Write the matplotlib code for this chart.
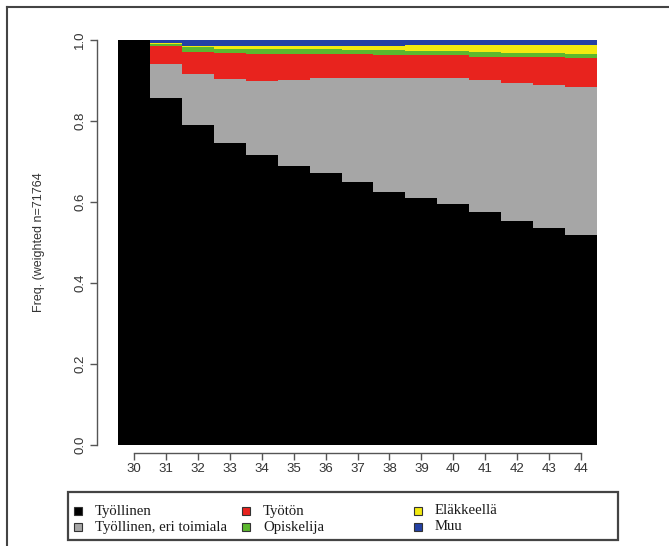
import matplotlib
matplotlib.use("Agg")
import matplotlib.pyplot as plt
from matplotlib.lines import Line2D
from matplotlib.patches import Rectangle
import numpy as np

# ======= Data: share of each status by age =======
ages = [30, 31, 32, 33, 34, 35, 36, 37, 38, 39, 40, 41, 42, 43, 44]
tyollinen = [1.000, 0.858, 0.790, 0.745, 0.715, 0.690, 0.671, 0.649, 0.625, 0.609, 0.594, 0.575, 0.554, 0.537, 0.519]
eri_toimiala = [0.000, 0.082, 0.127, 0.159, 0.185, 0.212, 0.234, 0.256, 0.280, 0.296, 0.311, 0.326, 0.341, 0.352, 0.364]
tyoton = [0.000, 0.044, 0.054, 0.063, 0.065, 0.063, 0.060, 0.060, 0.059, 0.058, 0.058, 0.058, 0.063, 0.068, 0.072]
opiskelija = [0.000, 0.006, 0.012, 0.012, 0.013, 0.012, 0.012, 0.011, 0.011, 0.011, 0.010, 0.012, 0.011, 0.010, 0.010]
elakkeella = [0.000, 0.002, 0.003, 0.005, 0.006, 0.007, 0.008, 0.009, 0.011, 0.013, 0.014, 0.017, 0.019, 0.021, 0.023]
muu = [0.000, 0.008, 0.014, 0.016, 0.016, 0.016, 0.015, 0.015, 0.014, 0.013, 0.013, 0.012, 0.012, 0.012, 0.012]

series = [
    ("Työllinen", tyollinen, "#000000"),
    ("Työllinen, eri toimiala", eri_toimiala, "#a6a6a6"),
    ("Työtön", tyoton, "#e8231e"),
    ("Opiskelija", opiskelija, "#5cb82e"),
    ("Eläkkeellä", elakkeella, "#f2ea10"),
    ("Muu", muu, "#2441a4"),
]

W, H = 669, 546
fig = plt.figure(figsize=(W / 100, H / 100), dpi=100)
ax = fig.add_axes([118 / W, 101 / H, 479 / W, 405 / H])

bottom = np.zeros(len(ages))
for name, vals, col in series:
    ax.bar(ages, vals, width=1.0, bottom=bottom, color=col, linewidth=0)
    bottom += np.array(vals)

ax.set_xlim(29.5, 44.5)
ax.set_ylim(0, 1)

# R-style axes: detached lines covering only the tick range
for s in ["top", "right"]:
    ax.spines[s].set_visible(False)
ax.spines["left"].set_position(("outward", 15))
ax.spines["bottom"].set_position(("outward", 5.8))
ax.spines["left"].set_bounds(0, 1)
ax.spines["bottom"].set_bounds(30, 44)
for s in ["left", "bottom"]:
    ax.spines[s].set_color("#555555")
    ax.spines[s].set_linewidth(1.0)

ax.set_xticks(ages)
ax.set_xticklabels([str(a) for a in ages])
ax.set_yticks([0.0, 0.2, 0.4, 0.6, 0.8, 1.0])
ax.set_yticklabels(["0.0", "0.2", "0.4", "0.6", "0.8", "1.0"], rotation=90, va="center")
ax.tick_params(axis="both", colors="#555555", labelcolor="#333333", labelsize=9.5,
               length=5, width=1.0)
ax.tick_params(axis="x", pad=2)
ax.tick_params(axis="y", pad=3)
for lab in ax.get_xticklabels() + ax.get_yticklabels():
    lab.set_family("Liberation Sans")

ax.set_ylabel("Freq. (weighted n=71764", fontsize=9, family="Liberation Sans",
              color="#333333", labelpad=21)


def px(x, y):
    # pixel position (from top-left) to figure fraction
    return x / W, 1 - y / H


# legend box below the plot, drawn by hand in three columns
x0, y0 = px(68, 540)
x1, y1 = px(618, 492)
fig.add_artist(Rectangle((x0, y0), x1 - x0, y1 - y0, transform=fig.transFigure,
                         facecolor="white", edgecolor="#444444", linewidth=1.6))
col_x = [78, 246, 418]
row_y = [511, 527]
for i, (name, _, col) in enumerate(series):
    cx = col_x[i // 2]
    cy = row_y[i % 2]
    mx, my = px(cx - 4, cy + 4)
    fig.add_artist(Rectangle((mx, my), 8 / W, 8 / H, transform=fig.transFigure,
                             facecolor=col, edgecolor="#333333", linewidth=0.8))
    tx, ty = px(cx + 17, cy)
    fig.text(tx, ty, name, ha="left", va="center", family="Liberation Serif",
             fontsize=10.6, color="#1a1a1a")

# page frame on the top and left
fig.add_artist(Line2D([7 / W, 1.0], [1 - 7 / H, 1 - 7 / H], color="#444444", lw=1.5))
fig.add_artist(Line2D([7 / W, 7 / W], [0, 1 - 7 / H], color="#444444", lw=1.5))

fig.savefig("out.png", dpi=100)
